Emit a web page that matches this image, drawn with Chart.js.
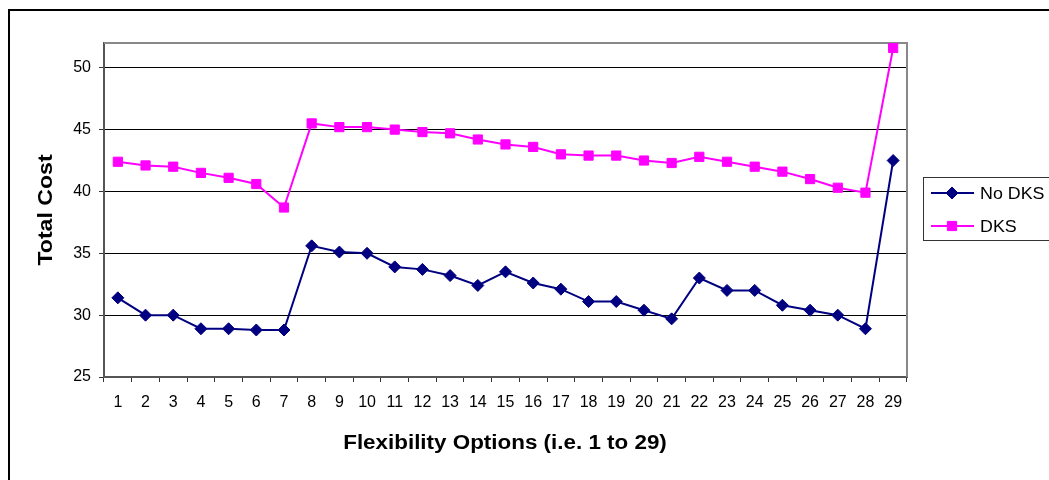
<!DOCTYPE html>
<html>
<head>
<meta charset="utf-8">
<script src="https://cdn.jsdelivr.net/npm/chart.js@4.4.1/dist/chart.umd.min.js"></script>
<style>
  html, body { margin: 0; padding: 0; background: #fff; }
  canvas { display: block; }
</style>
</head>
<body>
<canvas id="grafico" width="1049" height="480"></canvas>
<script>
// ---- data ----
const options = ["1","2","3","4","5","6","7","8","9","10","11","12","13","14","15",
  "16","17","18","19","20","21","22","23","24","25","26","27","28","29"];
const noDks = [31.4, 30.0, 30.0, 28.9, 28.9, 28.8, 28.8, 35.6, 35.1, 35.0, 33.9, 33.7, 33.2, 32.4, 33.5,
  32.6, 32.1, 31.1, 31.1, 30.4, 29.7, 33.0, 32.0, 32.0, 30.8, 30.4, 30.0, 28.9, 42.5];
const dks = [42.4, 42.1, 42.0, 41.5, 41.1, 40.6, 38.7, 45.5, 45.2, 45.2, 45.0, 44.8, 44.7, 44.2, 43.8,
  43.6, 43.0, 42.9, 42.9, 42.5, 42.3, 42.8, 42.4, 42.0, 41.6, 41.0, 40.3, 39.9, 51.6];
const yTicks = [25, 30, 35, 40, 45, 50];

const FONT = "'Liberation Sans', Arial, sans-serif";

// moldura externa, moldura do plot, títulos e legenda
const extras = {
  id: "extras",
  beforeDraw(chart) {
    const ctx = chart.ctx;
    ctx.save();
    ctx.fillStyle = "#fff";
    ctx.fillRect(0, 0, chart.width, chart.height);
    ctx.strokeStyle = "#000";
    ctx.lineWidth = 2;
    ctx.beginPath();
    ctx.moveTo(9, chart.height + 5);
    ctx.lineTo(9, 10);
    ctx.lineTo(chart.width + 5, 10);
    ctx.stroke();
    ctx.restore();
  },
  beforeDatasetsDraw(chart) {
    const { ctx, chartArea: a } = chart;
    ctx.save();
    ctx.strokeStyle = "#888";
    ctx.lineWidth = 2;
    ctx.beginPath();
    ctx.moveTo(a.left, a.top);
    ctx.lineTo(a.right, a.top);
    ctx.lineTo(a.right, a.bottom);
    ctx.stroke();
    ctx.restore();
  },
  afterDraw(chart) {
    const { ctx } = chart;
    ctx.save();
    ctx.fillStyle = "#000";
    ctx.textAlign = "center";
    ctx.textBaseline = "middle";

    // título eixo x
    ctx.font = "bold 20px " + FONT;
    ctx.save();
    ctx.translate(505, 443);
    ctx.scale(1.12, 1);
    ctx.fillText("Flexibility Options (i.e. 1 to 29)", 0, 0);
    ctx.restore();

    // título eixo y
    ctx.font = "bold 21px " + FONT;
    ctx.save();
    ctx.translate(46, 210);
    ctx.rotate(-Math.PI / 2);
    ctx.scale(1.1, 1);
    ctx.fillText("Total Cost", 0, 0);
    ctx.restore();

    // legenda
    ctx.strokeStyle = "#333";
    ctx.lineWidth = 1;
    ctx.strokeRect(923.5, 177.5, 140, 63);
    const rows = [193, 226];
    chart.data.datasets.forEach((ds, i) => {
      const y = rows[i];
      ctx.strokeStyle = ds.borderColor;
      ctx.lineWidth = ds.borderWidth;
      ctx.beginPath();
      ctx.moveTo(931, y);
      ctx.lineTo(974, y);
      ctx.stroke();
      ctx.fillStyle = ds.pointBackgroundColor;
      ctx.strokeStyle = ds.pointBorderColor;
      ctx.lineWidth = 1;
      Chart.helpers.drawPoint(ctx, {
        pointStyle: ds.pointStyle, radius: ds.pointRadius, rotation: 0, borderWidth: 1,
      }, 952, y);
      ctx.fillStyle = "#000";
      ctx.font = "17px " + FONT;
      ctx.textAlign = "left";
      ctx.save();
      ctx.translate(980, y + 1);
      ctx.scale(1.05, 1);
      ctx.fillText(ds.label, 0, 0);
      ctx.restore();
    });
    ctx.restore();
  },
};

new Chart(document.getElementById("grafico"), {
  type: "line",
  data: {
    labels: options,
    datasets: [
      {
        label: "No DKS",
        data: noDks,
        borderColor: "#000080",
        backgroundColor: "#000080",
        pointBackgroundColor: "#000080",
        pointBorderColor: "#000080",
        borderWidth: 2,
        pointStyle: "rectRot",
        pointRadius: 6,
        pointBorderWidth: 1,
        tension: 0,
      },
      {
        label: "DKS",
        data: dks,
        borderColor: "#FF00FF",
        backgroundColor: "#FF00FF",
        pointBackgroundColor: "#FF00FF",
        pointBorderColor: "#FF00FF",
        borderWidth: 2,
        pointStyle: "rect",
        pointRadius: 6.5,
        pointBorderWidth: 1,
        tension: 0,
      },
    ],
  },
  options: {
    responsive: false,
    animation: false,
    events: [],
    layout: { padding: { left: 0, top: 43, right: 142, bottom: 0 } },
    plugins: {
      legend: { display: false },
      tooltip: { enabled: false },
    },
    scales: {
      x: {
        offset: true,
        afterFit(scale) { scale.height = 103; },
        grid: {
          offset: true,
          drawOnChartArea: false,
          drawTicks: true,
          tickLength: 5,
          tickColor: "#333",
        },
        border: { display: true, color: "#555", width: 2 },
        ticks: {
          color: "#000",
          font: { family: FONT, size: 16 },
          padding: 11,
          maxRotation: 0,
          autoSkip: false,
        },
      },
      y: {
        min: 25,
        max: 52,
        afterFit(scale) { scale.width = 104; },
        afterBuildTicks(scale) {
          scale.ticks = yTicks.map((v) => ({ value: v }));
        },
        grid: {
          color: "#000",
          lineWidth: 1,
          tickLength: 5,
          tickColor: "#333",
        },
        border: { display: true, color: "#555", width: 2 },
        ticks: {
          color: "#000",
          font: { family: FONT, size: 16 },
          padding: 8,
        },
      },
    },
  },
  plugins: [extras],
});
</script>
</body>
</html>
